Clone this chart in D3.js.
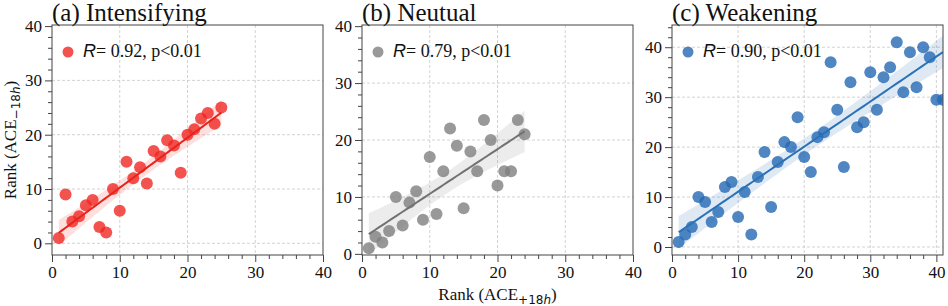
<!DOCTYPE html>
<html>
<head>
<meta charset="utf-8">
<script src="https://cdn.jsdelivr.net/npm/d3@7/dist/d3.min.js"></script>
<style>
  body { margin: 0; background: #fff; }
  svg text { font-family: "Liberation Serif", "Times New Roman", serif; fill: #111; }
</style>
</head>
<body>
<svg id="chart" width="948" height="306"></svg>
<script>
// --- données ---
const titles = ["(a) Intensifying", "(b) Neutual", "(c) Weakening"];
const rValues = ["0.92", "0.79", "0.90"];
const pText = "p<0.01";

const intensX = [1, 2, 3, 4, 5, 6, 7, 8, 9, 10, 11, 12, 13, 14, 15, 16, 17, 18, 19, 20, 21, 22, 23, 24, 25];
const intensY = [1, 9, 4, 5, 7, 8, 3, 2, 10, 6, 15, 12, 14, 11, 17, 16, 19, 18, 13, 20, 21, 23, 24, 22, 25];

const neutX = [1, 2, 3, 4, 5, 6, 7, 8, 9, 10, 11, 12, 13, 14, 15, 16, 17, 18, 19, 20, 21, 22, 23, 24];
const neutY = [1, 3, 2, 4, 10, 5, 9, 11, 6, 17, 7, 14.5, 22, 19, 8, 18, 14.5, 23.5, 20, 12, 14.5, 14.5, 23.5, 21];

const weakX = [1, 2, 3, 4, 5, 6, 7, 8, 9, 10, 11, 12, 13, 14, 15, 16, 17, 18, 19, 20, 21,
               22, 23, 24, 25, 26, 27, 28, 29, 30, 31, 32, 33, 34, 35, 36, 37, 38, 39, 40, 41];
const weakY = [1, 2.5, 4, 10, 9, 5, 7, 12, 13, 6, 11, 2.5, 14, 19, 8, 17, 21, 20, 26, 18, 15,
               22, 23, 37, 27.5, 16, 33, 24, 25, 35, 27.5, 34, 36, 41, 31, 39, 32, 40, 38, 29.5, 29.5];

const xTicks = [0, 10, 20, 30, 40];
const yTicks = [0, 10, 20, 30, 40];

const colors = ["#f02823", "#808080", "#2469b4"];
const lineColors = ["#e8231c", "#727272", "#2a72b8"];

const panels = [
    { x: intensX, y: intensY, xDom: [0, 40], yDom: [-2.15, 40.2] },
    { x: neutX, y: neutY, xDom: [0, 40], yDom: [-0.2, 40.2] },
    { x: weakX, y: weakY, xDom: [0, 41], yDom: [-1.6, 44.45] }
];

// --- mise en page ---
const lefts = [52, 362, 672];
const W = 271, plotTop = 25, plotBottom = 255;

const svg = d3.select("#chart");

// régression linéaire + IC 95 %
function fit(xs, ys) {
    const n = xs.length;
    const mx = d3.mean(xs), my = d3.mean(ys);
    let sxx = 0, sxy = 0;
    xs.forEach((x, i) => { sxx += (x - mx) ** 2; sxy += (x - mx) * (ys[i] - my); });
    const b = sxy / sxx, a = my - b * mx;
    let sse = 0;
    xs.forEach((x, i) => { sse += (ys[i] - a - b * x) ** 2; });
    const s = Math.sqrt(sse / (n - 2));
    const t = 1.96 + 2.5 / (n - 2);
    const [x0, x1] = d3.extent(xs);
    return d3.range(0, 51).map(k => {
        const x = x0 + (x1 - x0) * k / 50;
        const yh = a + b * x;
        const se = s * Math.sqrt(1 / n + (x - mx) ** 2 / sxx);
        return { x, y: yh, lo: yh - t * se, hi: yh + t * se };
    });
}

panels.forEach((p, i) => {
    const left = lefts[i];
    const g = svg.append("g");

    const x = d3.scaleLinear().domain(p.xDom).range([left, left + W]);
    const y = d3.scaleLinear().domain(p.yDom).range([plotBottom, plotTop]);

    const clipId = "clip" + i;
    svg.append("clipPath").attr("id", clipId)
        .append("rect")
        .attr("x", left).attr("y", plotTop)
        .attr("width", W).attr("height", plotBottom - plotTop);

    // grille
    g.selectAll(".gx")
        .data(xTicks.filter(d => d > p.xDom[0] && d < p.xDom[1] - 0.3))
        .enter().append("line")
        .attr("x1", d => x(d)).attr("x2", d => x(d))
        .attr("y1", plotTop).attr("y2", plotBottom)
        .attr("stroke", "#c8c8c8").attr("stroke-width", 0.8)
        .attr("stroke-dasharray", "3,2");

    g.selectAll(".gy")
        .data(yTicks.filter(d => d > p.yDom[0] + 0.3 && d < p.yDom[1] - 0.3))
        .enter().append("line")
        .attr("x1", left).attr("x2", left + W)
        .attr("y1", d => y(d)).attr("y2", d => y(d))
        .attr("stroke", "#c8c8c8").attr("stroke-width", 0.8)
        .attr("stroke-dasharray", "3,2");

    // droite de régression
    const reg = fit(p.x, p.y);
    const plot = g.append("g").attr("clip-path", `url(#${clipId})`);

    plot.append("path")
        .datum(reg)
        .attr("fill", colors[i])
        .attr("fill-opacity", 0.15)
        .attr("d", d3.area().x(d => x(d.x)).y0(d => y(d.lo)).y1(d => y(d.hi)));

    plot.selectAll("circle")
        .data(p.x.map((v, k) => ({ x: v, y: p.y[k] })))
        .enter().append("circle")
        .attr("cx", d => x(d.x))
        .attr("cy", d => y(d.y))
        .attr("r", 6)
        .attr("fill", colors[i])
        .attr("fill-opacity", 0.8);

    plot.append("path")
        .datum(reg)
        .attr("fill", "none")
        .attr("stroke", lineColors[i])
        .attr("stroke-width", 2)
        .attr("d", d3.line().x(d => x(d.x)).y(d => y(d.y)));

    // axes : petites graduations tous les 2
    const minorX = d3.range(0, p.xDom[1] + 0.01, 2).filter(d => d % 10 !== 0);
    const minorY = d3.range(0, p.yDom[1], 2).filter(d => d % 10 !== 0);

    const styleAxis = sel => {
        sel.select(".domain").remove();
        sel.selectAll("line").attr("stroke", "#444");
        sel.selectAll("text").attr("font-size", "17px")
            .attr("font-family", "Liberation Serif, serif").attr("fill", "#111");
    };

    g.append("g").attr("transform", `translate(0,${plotBottom})`)
        .call(d3.axisBottom(x).tickValues(minorX).tickSize(4).tickFormat(""))
        .call(styleAxis);
    g.append("g").attr("transform", `translate(0,${plotBottom})`)
        .call(d3.axisBottom(x).tickValues(xTicks).tickSize(7).tickPadding(4).tickFormat(d3.format("d")))
        .call(styleAxis);

    g.append("g").attr("transform", `translate(${left},0)`)
        .call(d3.axisLeft(y).tickValues(minorY).tickSize(4).tickFormat(""))
        .call(styleAxis);
    g.append("g").attr("transform", `translate(${left},0)`)
        .call(d3.axisLeft(y).tickValues(yTicks).tickSize(7).tickPadding(3).tickFormat(d3.format("d")))
        .call(styleAxis);

    // cadre
    g.append("rect")
        .attr("x", left).attr("y", plotTop)
        .attr("width", W).attr("height", plotBottom - plotTop)
        .attr("fill", "none").attr("stroke", "#444").attr("stroke-width", 1);

    // titre
    g.append("text")
        .attr("x", left).attr("y", 21)
        .attr("font-size", "25px")
        .text(titles[i]);

    // légende
    g.append("circle")
        .attr("cx", left + 16).attr("cy", 52)
        .attr("r", 5.5)
        .attr("fill", colors[i]).attr("fill-opacity", 0.8);

    const lt = g.append("text")
        .attr("x", left + 31).attr("y", 57)
        .attr("font-size", "18px");
    lt.append("tspan")
        .attr("font-family", "Liberation Sans, Arial, sans-serif")
        .attr("font-style", "italic")
        .text("R");
    lt.append("tspan").text(`= ${rValues[i]}, ${pText}`);
});

// titres des axes
const yl = svg.append("text")
    .attr("transform", "translate(16,140) rotate(-90)")
    .attr("text-anchor", "middle")
    .attr("font-size", "17px");
yl.append("tspan").text("Rank (ACE");
yl.append("tspan").attr("dy", 4).attr("font-size", "12px")
    .attr("font-family", "DejaVu Sans, sans-serif").text("\u221218");
yl.append("tspan").attr("font-size", "12px").attr("font-style", "italic")
    .attr("font-family", "DejaVu Sans, sans-serif").text("h");
yl.append("tspan").attr("dy", -4).text(")");

const xl = svg.append("text")
    .attr("x", lefts[1] + W / 2).attr("y", 300)
    .attr("text-anchor", "middle")
    .attr("font-size", "17px");
xl.append("tspan").text("Rank (ACE");
xl.append("tspan").attr("dy", 4).attr("font-size", "12px")
    .attr("font-family", "DejaVu Sans, sans-serif").text("+18");
xl.append("tspan").attr("font-size", "12px").attr("font-style", "italic")
    .attr("font-family", "DejaVu Sans, sans-serif").text("h");
xl.append("tspan").attr("dy", -4).text(")");
</script>
</body>
</html>
